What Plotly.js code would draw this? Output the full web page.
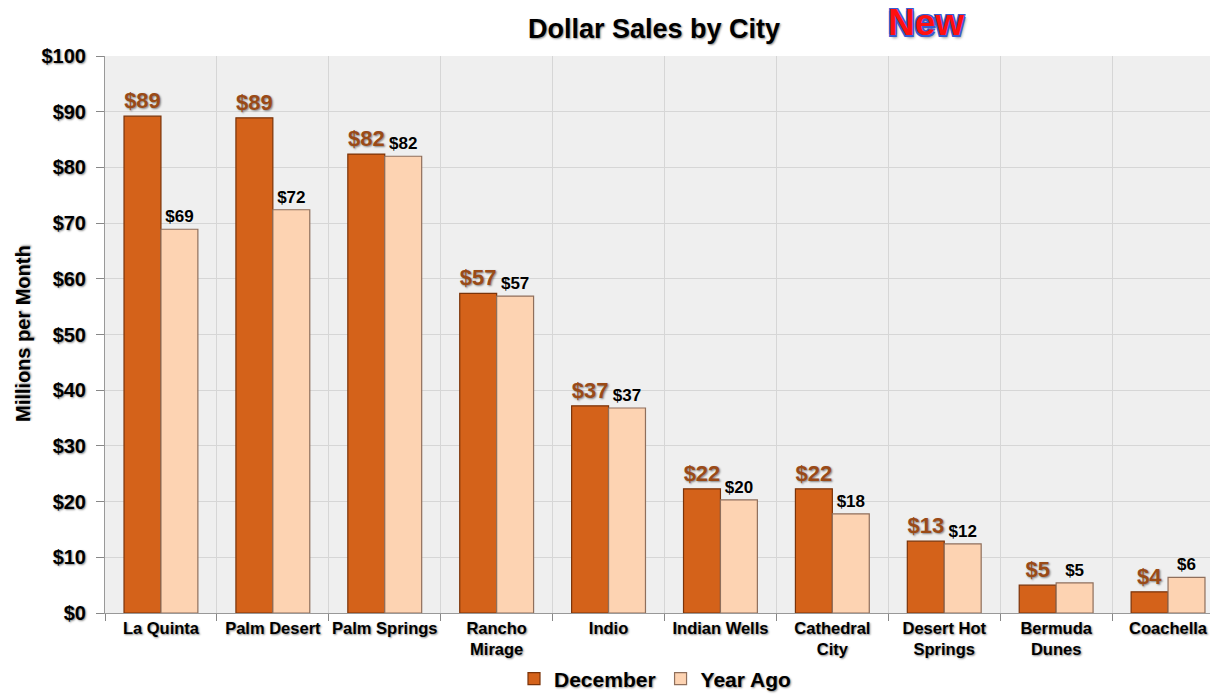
<!DOCTYPE html>
<html>
<head>
<meta charset="utf-8">
<script src="https://cdn.plot.ly/plotly-3.0.1.min.js"></script>
<style>
html,body{margin:0;padding:0;overflow:hidden;background:#fff;width:1210px;height:694px;}
#chart{width:1250px;height:694px;}
</style>
</head>
<body>
<div id="chart"></div>
<script>
const cities = ["La Quinta","Palm Desert","Palm Springs","Rancho<br>Mirage","Indio","Indian Wells","Cathedral<br>City","Desert Hot<br>Springs","Bermuda<br>Dunes","Coachella"];
const december = [89.2, 88.9, 82.4, 57.4, 37.2, 22.3, 22.3, 12.9, 5.0, 3.8];
const yearAgo = [68.9, 72.4, 82.0, 56.9, 36.8, 20.3, 17.8, 12.4, 5.4, 6.4];
const seriesNames = ["December", "Year Ago"];
const yTitle = "Millions per Month";

const FONT = "Liberation Sans, Arial, sans-serif";
const SH = "1px 1px 2px rgba(0,0,0,0.45)";

const traces = [
  {
    type: "bar", name: seriesNames[0], x: cities, y: december,
    marker: {color: "#d4621a", line: {color: "#7a3309", width: 1.2}},
    texttemplate: "$%{y:.0f}", textposition: "outside", cliponaxis: false,
    textfont: {family: FONT, size: 22, color: "#9a4a17", weight: "bold", shadow: SH},
    hoverinfo: "skip"
  },
  {
    type: "bar", name: seriesNames[1], x: cities, y: yearAgo,
    marker: {color: "#fdd3b2", line: {color: "#8f6f5c", width: 1.2}},
    texttemplate: "$%{y:.0f}", textposition: "outside", cliponaxis: false,
    textfont: {family: FONT, size: 17, color: "#000", weight: "bold"},
    hoverinfo: "skip"
  }
];

const layout = {
  width: 1250, height: 694,
  margin: {l: 105, r: 26, t: 56, b: 81},
  paper_bgcolor: "#ffffff",
  plot_bgcolor: "#efefef",
  barmode: "group", bargap: 0.34, bargroupgap: 0,
  font: {family: FONT, color: "#000"},
  title: {
    text: "Dollar Sales by City",
    font: {family: FONT, size: 27, weight: "bold", color: "#000", shadow: SH},
    x: 654/1250, xanchor: "center", y: 1 - 29/694, yanchor: "middle"
  },
  xaxis: {
    type: "category", automargin: false, tickangle: 0,
    tickson: "boundaries", ticks: "outside", ticklen: 7, tickcolor: "#888",
    showgrid: true, gridcolor: "#d6d6d6", gridwidth: 1,
    showline: true, linecolor: "#999",
    tickfont: {family: FONT, size: 16.5, weight: "bold", color: "#000", shadow: SH},
    range: [-0.5, 9.5], fixedrange: true
  },
  yaxis: {
    range: [0, 100], dtick: 10, tickprefix: "$", automargin: false,
    ticks: "outside", ticklen: 8, tickcolor: "#888", ticklabelstandoff: 6,
    showgrid: true, gridcolor: "#d6d6d6", gridwidth: 1,
    showline: true, linecolor: "#999", zeroline: false,
    tickfont: {family: FONT, size: 20, weight: "bold", color: "#000", shadow: SH},
    fixedrange: true
  },
  showlegend: true,
  legend: {
    orientation: "h", xref: "container", yref: "container",
    x: 655/1250, xanchor: "center",
    y: 1 - 679/694, yanchor: "middle",
    font: {family: FONT, size: 21, weight: "bold", color: "#000", shadow: SH},
    itemwidth: 30, bgcolor: "rgba(0,0,0,0)"
  },
  annotations: [
    {
      text: yTitle, xref: "paper", yref: "paper",
      x: (23-105)/1119, y: (613-334)/557, xanchor: "center", yanchor: "middle",
      textangle: -90, showarrow: false,
      font: {family: FONT, size: 20, weight: "bold", color: "#000", shadow: SH}
    },
    {
      text: "New", xref: "paper", yref: "paper",
      x: (926-105)/1119, y: (613-22)/557, xanchor: "center", yanchor: "middle",
      showarrow: false,
      font: {family: FONT, size: 37, weight: "bold", color: "#ff1010",
             shadow: "1.5px 1.5px 0 #3a5bd0, -1.5px -1.5px 0 #3a5bd0, 1.5px -1.5px 0 #3a5bd0, -1.5px 1.5px 0 #3a5bd0, 2px 3px 3px rgba(0,0,0,0.4)"}
    }
  ]
};

Plotly.newPlot("chart", traces, layout, {displayModeBar: false, staticPlot: true});
</script>
</body>
</html>
